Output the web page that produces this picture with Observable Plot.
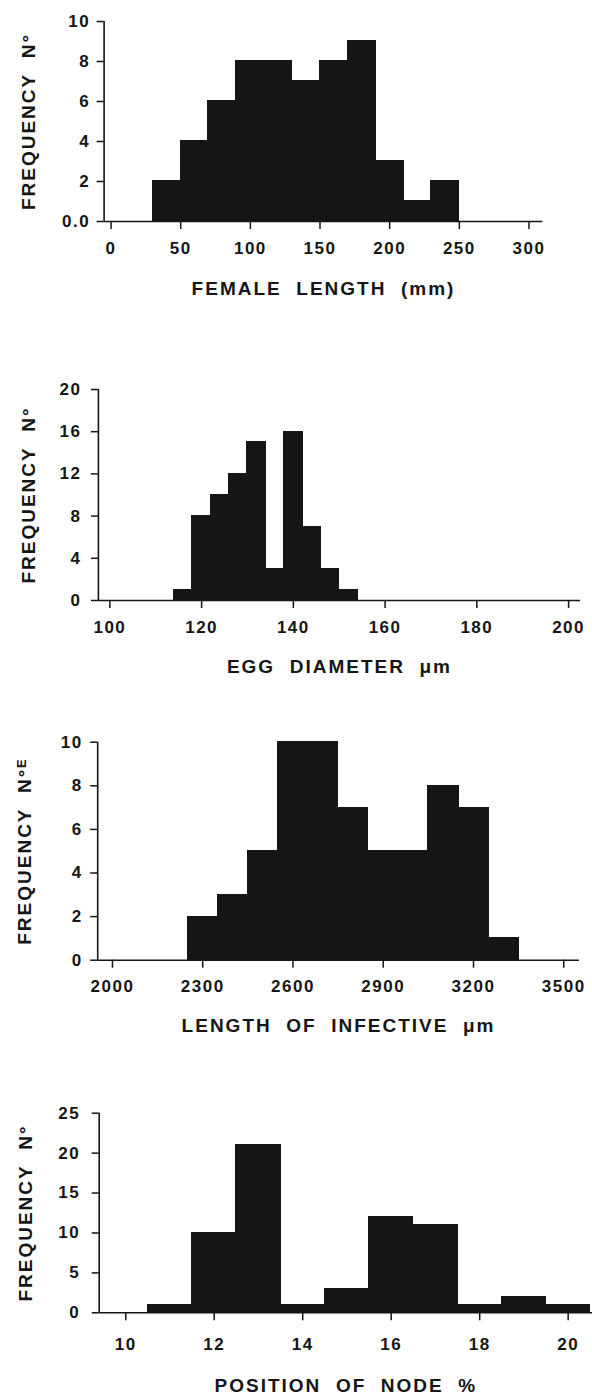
<!DOCTYPE html>
<html><head><meta charset="utf-8">
<script src="https://cdn.jsdelivr.net/npm/d3@7"></script>
<script src="https://cdn.jsdelivr.net/npm/@observablehq/plot@0.6"></script>
<style>
body{margin:0;background:#fff;}
#wrap{position:relative;width:592px;height:1395px;overflow:hidden;background:#fff;}
#wrap svg{position:absolute;left:0;}
#wrap svg text{font-family:"Liberation Sans",Arial,sans-serif;font-weight:bold;letter-spacing:1.5px;font-size:17px;fill:#151515;}
#wrap svg g[aria-label="x-axis label"] text,#wrap svg g[aria-label="y-axis label"] text{font-size:19px;letter-spacing:2px;}
</style></head><body><div id="wrap"></div>
<script>
// ---- data ----
const femaleEdges = [30,50,70,90,110,130,150,170,190,210,230,250];
const femaleCounts = [2,4,6,8,8,7,8,9,3,1,2];
const femaleTicksX = [0,50,100,150,200,250,300];
const femaleTicksY = [0,2,4,6,8,10];

const eggEdges = [114,118,122,126,130,134,138,142,146,150,154];
const eggCounts = [1,8,10,12,15,3,16,7,3,1];
const eggTicksX = [100,120,140,160,180,200];
const eggTicksY = [0,4,8,12,16,20];

const infEdges = [2250,2350,2450,2550,2650,2750,2850,2950,3050,3150,3250,3350];
const infCounts = [2,3,5,10,10,7,5,5,8,7,1];
const infTicksX = [2000,2300,2600,2900,3200,3500];
const infTicksY = [0,2,4,6,8,10];

const nodeEdges = [10.5,11.5,12.5,13.5,14.5,15.5,16.5,17.5,18.5,19.5,20.5];
const nodeCounts = [1,10,21,1,3,12,11,1,2,1];
const nodeTicksX = [10,12,14,16,18,20];
const nodeTicksY = [0,5,10,15,20,25];

const wrap = document.getElementById("wrap");
const INK = "#151515";

function panel(c) {
  const rows = c.counts.map((v, i) => ({x1: c.edges[i], x2: c.edges[i + 1], y: v}));
  const svg = Plot.plot({
    width: 592, height: c.height,
    marginLeft: c.ml, marginRight: c.mr, marginTop: c.mt, marginBottom: c.mb,
    style: {background: "transparent", overflow: "visible"},
    x: {domain: c.xDomain},
    y: {domain: c.yDomain},
    marks: [
      Plot.rectY(rows, {x1: "x1", x2: "x2", y1: 0, y2: "y", fill: INK, stroke: INK, strokeWidth: 1.2, shapeRendering: "crispEdges"}),
      Plot.ruleY([0], {stroke: INK, strokeWidth: 1.6}),
      Plot.ruleX([c.xDomain[0]], {y1: 0, y2: c.yDomain[1], stroke: INK, strokeWidth: 1.6}),
      Plot.axisX({ticks: c.ticksX, tickSize: 8, tickPadding: c.xPad, tickFormat: d => String(d),
        stroke: INK, strokeWidth: 1.5,
        label: c.xLabel, labelAnchor: "center", labelOffset: c.xLabelOffset, labelArrow: "none"}),
      Plot.axisY({ticks: c.ticksY, tickSize: 7, tickPadding: c.yPad, tickFormat: c.yFormat || (d => String(d)),
        stroke: INK, strokeWidth: 1.5,
        label: c.yLabel, labelAnchor: "center", labelOffset: c.yLabelOffset, labelArrow: "none"})
    ]
  });
  svg.style.top = c.top + "px";
  wrap.appendChild(svg);
}

const S = "\u00a0\u00a0";
panel({top: 0, height: 310, ml: 103.6, mr: 49.6, mt: 21, mb: 89,
  xDomain: [-5, 310], yDomain: [0, 10], edges: femaleEdges, counts: femaleCounts,
  ticksX: femaleTicksX, ticksY: femaleTicksY, yFormat: d => d === 0 ? "0.0" : String(d),
  xPad: 12, yPad: 7, xLabel: "FEMALE" + S + "LENGTH" + S + "(mm)", xLabelOffset: 73,
  yLabel: "FREQUENCY" + S + "N°", yLabelOffset: 83});

panel({top: 310, height: 380, ml: 97.9, mr: 12, mt: 79, mb: 90,
  xDomain: [97.5, 202.6], yDomain: [0, 20], edges: eggEdges, counts: eggCounts,
  ticksX: eggTicksX, ticksY: eggTicksY,
  xPad: 12, yPad: 10, xLabel: "EGG" + S + "DIAMETER" + S + "μm", xLabelOffset: 72,
  yLabel: "FREQUENCY" + S + "N°", yLabelOffset: 77});

panel({top: 690, height: 360, ml: 97.2, mr: 13.1, mt: 51.7, mb: 90.3,
  xDomain: [1951, 3552], yDomain: [0, 10], edges: infEdges, counts: infCounts,
  ticksX: infTicksX, ticksY: infTicksY,
  xPad: 12, yPad: 8, xLabel: "LENGTH" + S + "OF" + S + "INFECTIVE" + S + "μm", xLabelOffset: 72,
  yLabel: "FREQUENCY" + S + "N°ᴱ", yLabelOffset: 80});

panel({top: 1050, height: 345, ml: 98.7, mr: 0, mt: 62.7, mb: 82.7,
  xDomain: [9.4, 20.55], yDomain: [0, 25], edges: nodeEdges, counts: nodeCounts,
  ticksX: nodeTicksX, ticksY: nodeTicksY,
  xPad: 17, yPad: 12, xLabel: "POSITION" + S + "OF" + S + "NODE" + S + "%", xLabelOffset: 79,
  yLabel: "FREQUENCY" + S + "N°", yLabelOffset: 81});
</script></body></html>
